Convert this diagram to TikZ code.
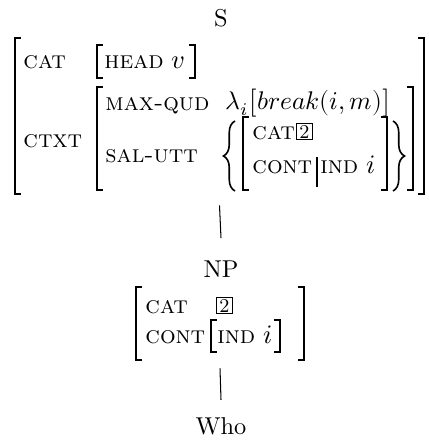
\documentclass[tikz,border=0pt]{standalone}
\usepackage{fontspec}
\usepackage{unicode-math}
\setmathfont{Latin Modern Math}
\usetikzlibrary{fit,decorations.pathreplacing}
\newcommand\lbrk[3]{\draw[brk] (#1+6,#2) -- (#1,#2) -- (#1,#3) -- (#1+6,#3);}
\newcommand\rbrk[3]{\draw[brk] (#1-6,#2) -- (#1,#2) -- (#1,#3) -- (#1-6,#3);}
\newcommand\feat[1]{\textsc{#1}}
\newcommand\mth[1]{{\fontsize{11.6}{14}\selectfont$#1$}}
\newcommand\mths[1]{{\fontsize{11.1}{14}\selectfont$#1$}}
\tikzset{
  lab/.style={inner sep=0pt, anchor=base west, font=\fontsize{10.7}{13}\selectfont},
  treelab/.style={inner xsep=0pt, anchor=base, font=\fontsize{10.6}{13}\selectfont},
  brk/.style={line width=0.8pt, line cap=butt, line join=miter},
  edge/.style={line width=0.45pt},
  tag/.style={draw, line width=0.4pt, inner sep=0pt, minimum size=7pt, font=\fontsize{8.5}{9}\selectfont},
  bracebrk/.style={line width=0.7pt, decorate, decoration={brace, amplitude=5pt}},
  ghost/.style={inner sep=0pt, fit=#1}
}
\begin{document}
\begin{tikzpicture}[x=0.4348pt, y=-0.4348pt]
\useasboundingbox (0,0) rectangle (428,441);
% tree labels
\node[treelab] (S) at (221,26) {S};
\node[treelab, inner ysep=9.5pt] (NP) at (221,277) {NP};
\node[treelab, inner ysep=7.3pt] (Who) at (221,434) {Who};
% ghost nodes for AVMs
\coordinate (sTL) at (15,38);
\coordinate (sBR) at (424,205);
\node[ghost={(sTL)(sBR)}] (avmS) {};
\coordinate (nTL) at (136,287);
\coordinate (nBR) at (304,368);
\node[ghost={(nTL)(nBR)}] (avmNP) {};
% top AVM
\lbrk{15}{38}{194}
\rbrk{424}{38}{194}
\node[lab] (catS) at (23,68) {\feat{cat}};
\lbrk{97}{45}{78}
\node[lab] (headv) at (104,68) {\feat{head} \mth{v}};
\rbrk{195}{45}{78}
\node[lab] (ctxt) at (23,147) {\feat{ctxt}};
\lbrk{97}{87}{190}
\rbrk{413}{87}{190}
\node[lab] (maxqud) at (105,110) {\addfontfeature{LetterSpace=12}\feat{max-qud}};
\node[lab] (lam) at (225,109) {\mths{\lambda_i\bigl[break(i,m)\bigr]}};
\node[lab] (salutt) at (105,162) {\feat{sal-utt}};
\draw[bracebrk] (235,191) -- (235,121);
\draw[bracebrk] (393,121) -- (393,191);
\lbrk{243}{117}{190}
\rbrk{387}{117}{190}
\node[lab] (cat2) at (252,139) {\feat{cat}};
\node[tag] (t2a) at (304.5,131.5) {2};
\node[lab] (cont2) at (252,173) {\feat{cont}};
\draw[edge] (317,157) -- (317,187);
\node[lab] (ind2) at (320,173) {\feat{ind} \mth{i}};
% NP AVM
\lbrk{136}{287}{360}
\rbrk{304}{287}{360}
\node[lab] (catN) at (145,313) {\feat{cat}};
\node[tag] (t2b) at (224.5,305.5) {2};
\node[lab] (contN) at (145,343) {\feat{cont}};
\lbrk{211}{320}{352}
\rbrk{280}{320}{352}
\node[lab] (indN) at (217,343) {\feat{ind} \mth{i}};
% edges
\draw[edge] (avmS.south) -- (NP.north);
\draw[edge] (avmNP.south) -- (Who.north);
\end{tikzpicture}
\end{document}
